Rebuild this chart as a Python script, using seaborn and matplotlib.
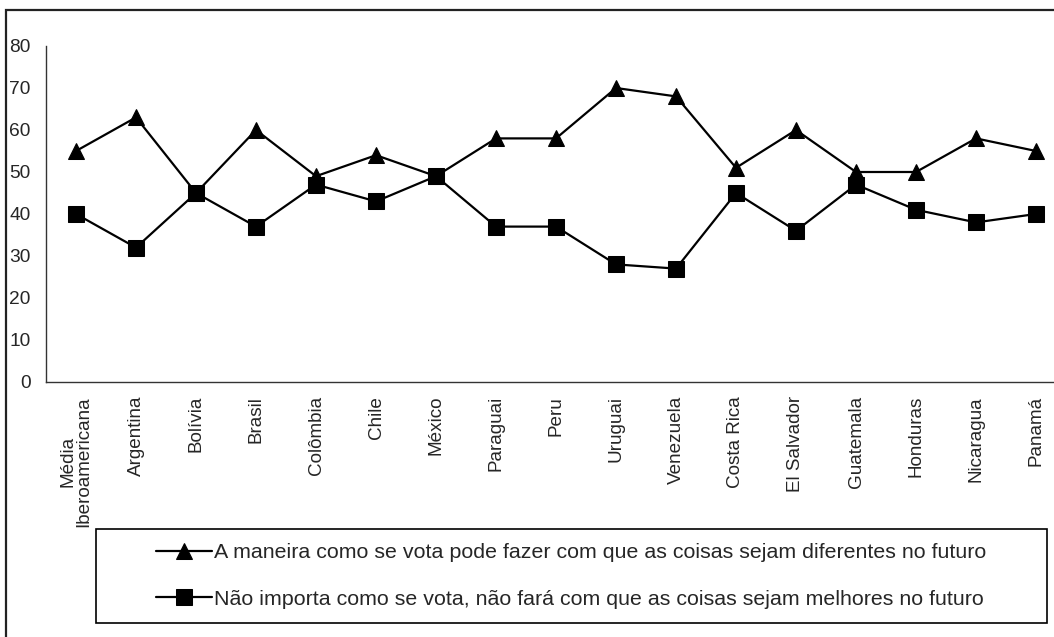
import matplotlib
matplotlib.use("Agg")
import matplotlib.pyplot as plt
import pandas as pd
import seaborn as sns
from matplotlib.patches import Rectangle
from matplotlib.ticker import FixedLocator

# data
paises = ["Média\nIberoamericana", "Argentina", "Bolívia", "Brasil", "Colômbia", "Chile",
          "México", "Paraguai", "Peru", "Uruguai", "Venezuela", "Costa Rica",
          "El Salvador", "Guatemala", "Honduras", "Nicaragua", "Panamá"]
diferente = [55, 63, 45, 60, 49, 54, 49, 58, 58, 70, 68, 51, 60, 50, 50, 58, 55]
nao_importa = [40, 32, 45, 37, 47, 43, 49, 37, 37, 28, 27, 45, 36, 47, 41, 38, 40]

serie1 = "A maneira como se vota pode fazer com que as coisas sejam diferentes no futuro"
serie2 = "Não importa como se vota, não fará com que as coisas sejam melhores no futuro"

df = pd.DataFrame({
    "pais": paises * 2,
    "valor": diferente + nao_importa,
    "serie": [serie1] * len(paises) + [serie2] * len(paises),
})
df["pos"] = list(range(len(paises))) * 2

sns.set_style("white")
plt.rcParams["font.family"] = ["Liberation Sans", "DejaVu Sans"]

W, H = 1054, 637
fig = plt.figure(figsize=(W / 100, H / 100), dpi=100)
# axes: left spine at x=46, 60 px per category, y=80 at 46 px, y=0 at 382 px
ax = fig.add_axes([46 / W, 1 - 382 / H, 1020 / W, 336 / H])

sns.lineplot(data=df, x="pos", y="valor", hue="serie", style="serie",
             markers={serie1: "^", serie2: "s"}, dashes=False,
             palette={serie1: "black", serie2: "black"},
             markersize=11, linewidth=1.6, markeredgecolor="black",
             ax=ax, legend=True)

ax.set_xlim(-0.5, len(paises) - 0.5)
ax.set_ylim(0, 80)
ax.set_yticks(range(0, 81, 10))
ax.set_xticks(range(len(paises)))
ax.set_xticklabels(paises, rotation=90, va="top", ha="center", fontsize=13.6,
                   linespacing=0.95)
ax.xaxis.set_minor_locator(FixedLocator([i - 0.5 for i in range(len(paises) + 1)]))
ax.tick_params(axis="x", which="major", length=0, pad=10)
ax.tick_params(axis="x", which="minor", length=6, width=1, color="#333", direction="out")
ax.tick_params(axis="y", length=6, width=1, color="#333", direction="out",
               labelsize=13.8, pad=5)
ax.set_xlabel("")
ax.set_ylabel("")
for s in ["top", "right"]:
    ax.spines[s].set_visible(False)
for s in ["left", "bottom"]:
    ax.spines[s].set_color("#333")
    ax.spines[s].set_linewidth(1)
ax.grid(False)

# legend at the bottom, with its own square frame
handles, labels = ax.get_legend_handles_labels()
ax.get_legend().remove()
fig.legend(handles, labels, loc="center", bbox_to_anchor=(571 / W, 1 - 576 / H),
           frameon=False, fontsize=15.4, handlelength=2.6, handletextpad=0.1,
           labelspacing=1.3)
fig.patches.append(Rectangle((96 / W, 1 - 623 / H), 951 / W, 94 / H,
                             transform=fig.transFigure, fill=False,
                             edgecolor="black", linewidth=1.2))
# outer border (right and bottom edges lie outside the picture)
fig.patches.append(Rectangle((6 / W, -0.05), 1.1, 1.05 - 10 / H,
                             transform=fig.transFigure, fill=False,
                             edgecolor="#222", linewidth=1.6))

fig.savefig("out.png", dpi=100)
